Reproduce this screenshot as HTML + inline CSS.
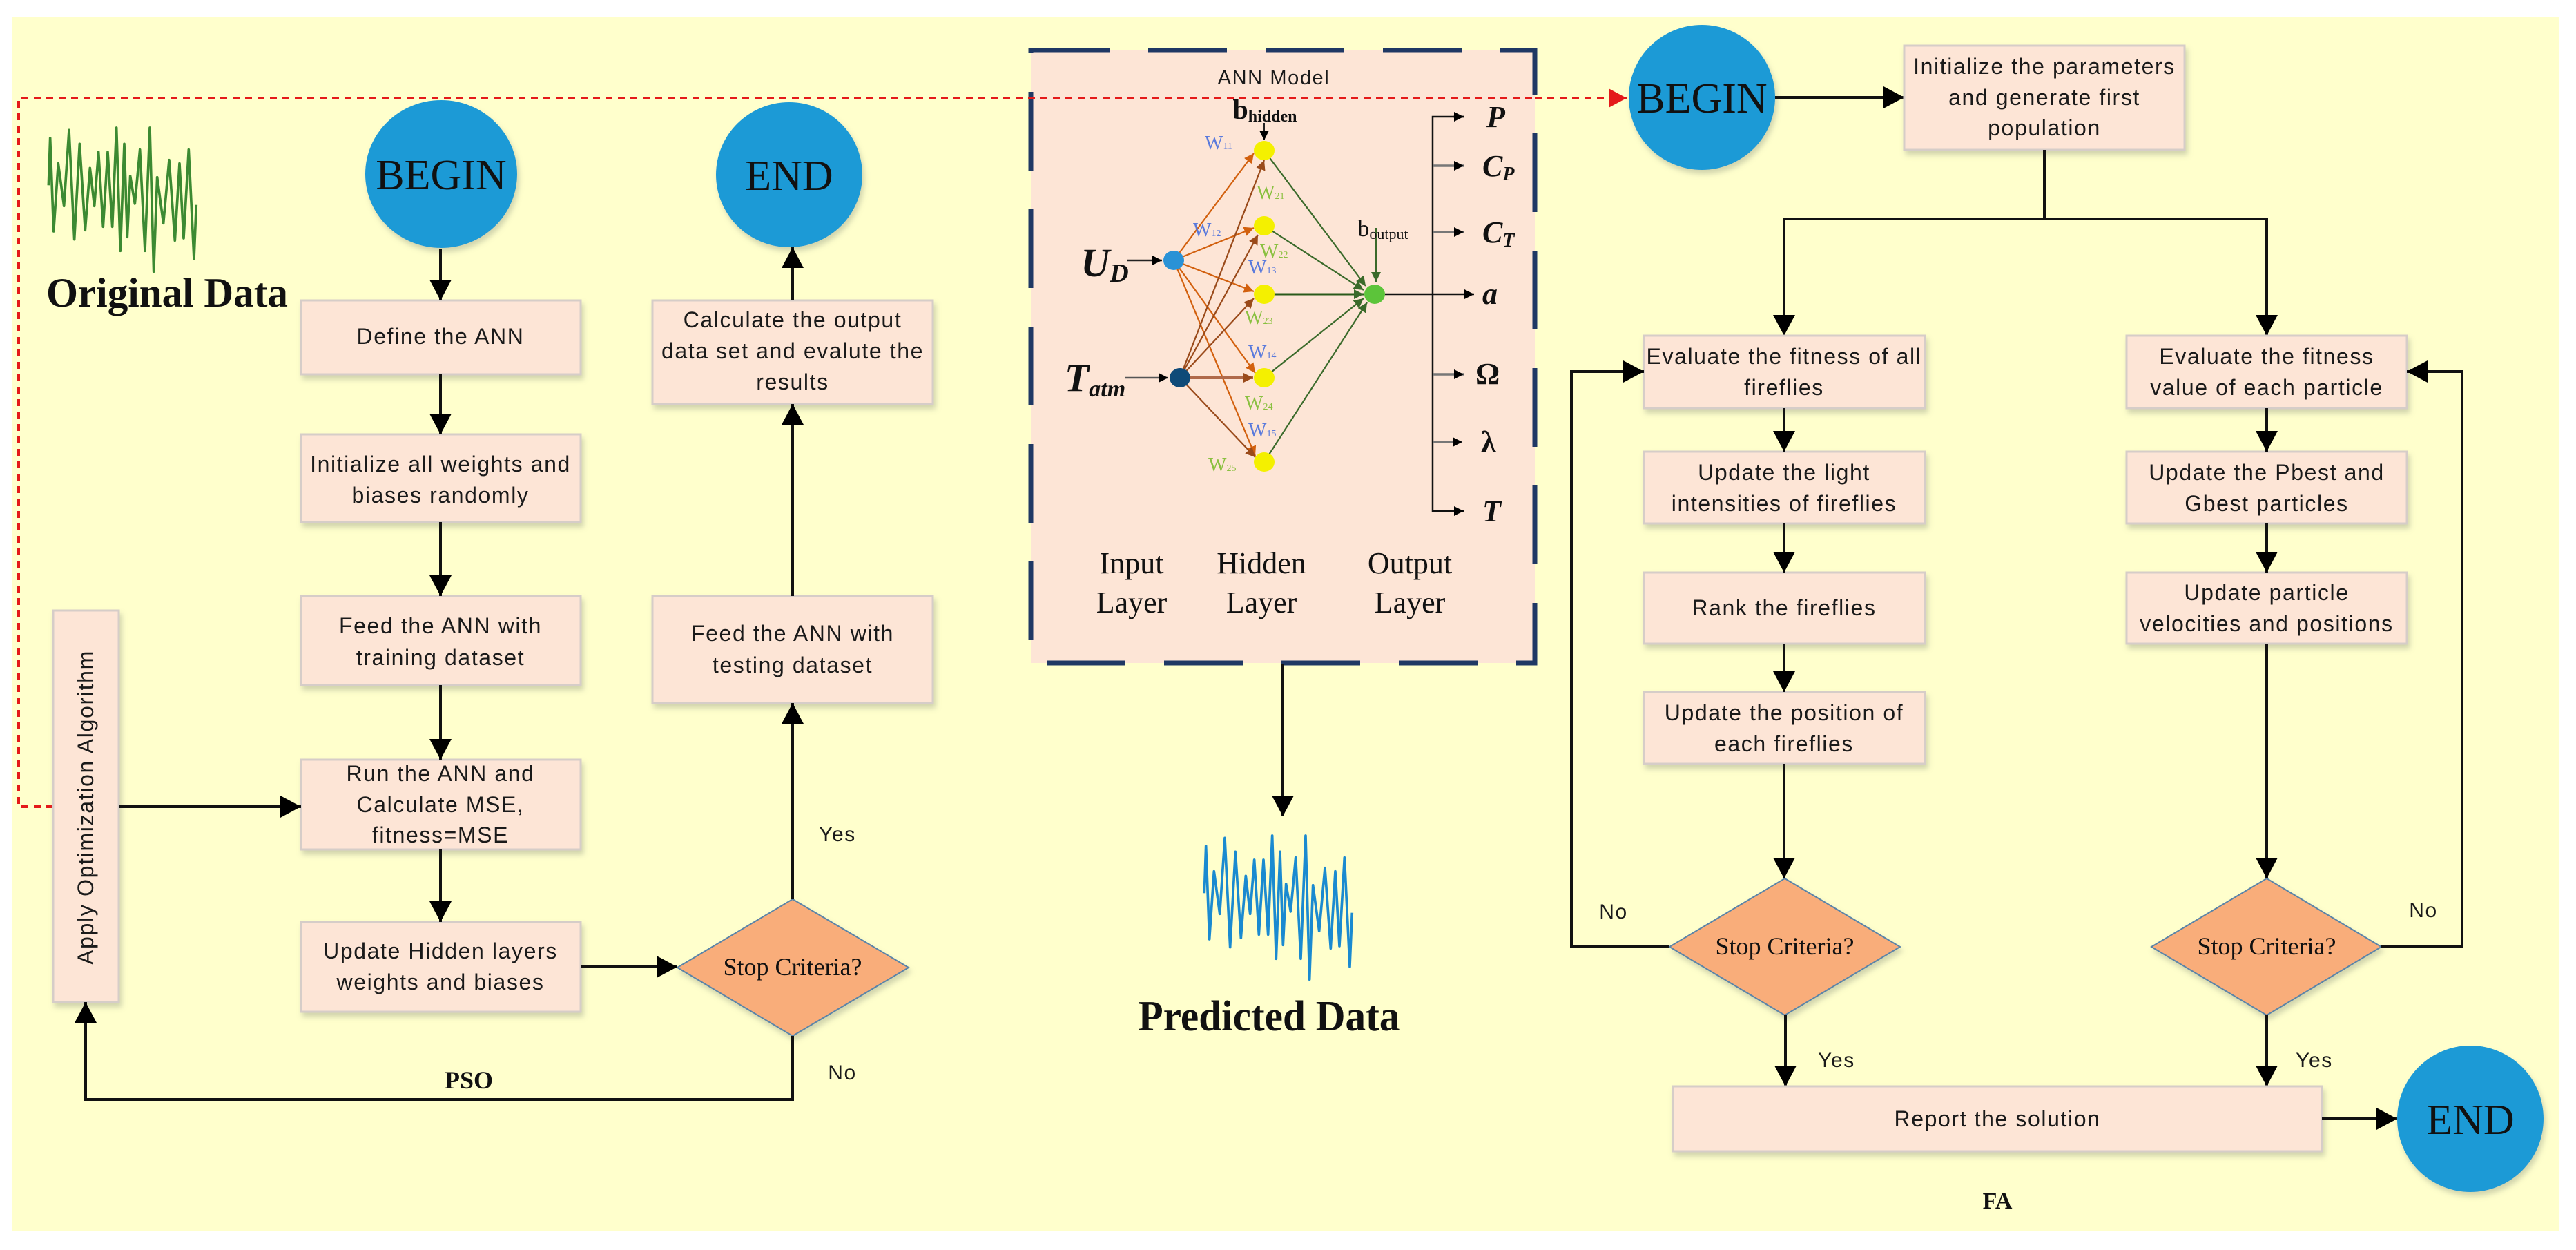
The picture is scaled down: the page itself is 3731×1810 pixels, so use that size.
<!DOCTYPE html>
<html><head><meta charset="utf-8"><style>
html,body{margin:0;padding:0;background:#fff;}
svg{display:block;}
.bx{fill:#fde5d6;stroke:#d6cdc8;stroke-width:3;filter:url(#sh);}
.t{font-family:"Liberation Sans",sans-serif;font-size:32px;letter-spacing:1.6px;fill:#1a1a1a;text-anchor:middle;}
.s{font-family:"Liberation Serif",serif;fill:#111;text-anchor:middle;}
.ln{stroke:#111;stroke-width:4;fill:none;}
</style></head><body>
<svg width="3731" height="1810" viewBox="0 0 3731 1810" xmlns="http://www.w3.org/2000/svg">
<defs>
<filter id="sh" x="-10%" y="-10%" width="130%" height="140%"><feDropShadow dx="3" dy="6" stdDeviation="4" flood-color="#99a088" flood-opacity="0.45"/></filter>
<marker id="ah" viewBox="0 0 30 32" refX="30" refY="16" markerWidth="30" markerHeight="32" markerUnits="userSpaceOnUse" orient="auto"><path d="M0,0 L30,16 L0,32 z" fill="#000"/></marker>
<marker id="ar" viewBox="0 0 30 32" refX="30" refY="16" markerWidth="26" markerHeight="28" markerUnits="userSpaceOnUse" orient="auto"><path d="M0,0 L30,16 L0,32 z" fill="#e41a1a"/></marker>
<marker id="as" viewBox="0 0 10 10" refX="10" refY="5" markerWidth="14" markerHeight="14" markerUnits="userSpaceOnUse" orient="auto"><path d="M0,0 L10,5 L0,10 z" fill="#000"/></marker>
<marker id="ao" viewBox="0 0 10 10" refX="10" refY="5" markerWidth="14" markerHeight="14" markerUnits="userSpaceOnUse" orient="auto"><path d="M0,0 L10,5 L0,10 z" fill="#d2600e"/></marker>
<marker id="ab" viewBox="0 0 10 10" refX="10" refY="5" markerWidth="14" markerHeight="14" markerUnits="userSpaceOnUse" orient="auto"><path d="M0,0 L10,5 L0,10 z" fill="#9a4a1a"/></marker>
<marker id="ag" viewBox="0 0 10 10" refX="10" refY="5" markerWidth="14" markerHeight="14" markerUnits="userSpaceOnUse" orient="auto"><path d="M0,0 L10,5 L0,10 z" fill="#3a6a2a"/></marker>
<polyline id="wave" points="133,430 140,225 155,630 175,335 200,520 222,190 245,665 268,250 292,625 313,355 332,520 350,285 370,610 390,285 410,610 428,180 445,715 462,250 475,655 488,390 508,510 530,275 552,715 573,180 590,805 605,395 632,595 657,320 682,670 702,335 720,660 742,275 765,750 775,515" fill="none" stroke-width="11" stroke-linejoin="round"/>
</defs>
<rect x="0" y="0" width="3731" height="1810" fill="#fff"/>
<rect x="18" y="25" width="3689" height="1757" fill="#ffffcc"/>

<rect x="1493" y="73" width="730" height="887" fill="#fde5d6"/>
<rect x="1493" y="73" width="730" height="887" fill="none" stroke="#1f3864" stroke-width="7" stroke-dasharray="114 56"/>

<polyline points="77,1168 27,1168 27,142 2223,142" fill="none" stroke="#e41a1a" stroke-width="4" stroke-dasharray="10 8"/>
<line x1="2223" y1="142" x2="2356" y2="142" stroke="#e41a1a" stroke-width="4" stroke-dasharray="10 8" marker-end="url(#ar)"/>

<use href="#wave" stroke="#3c8a32" transform="translate(26,125) scale(0.3333)"/>
<text x="67" y="444" class="s" style="text-anchor:start;font-weight:bold;font-size:60px" textLength="350" lengthAdjust="spacingAndGlyphs">Original Data</text>

<ellipse cx="639" cy="252" rx="110" ry="107" fill="#1c9ad6" filter="url(#sh)"/>
<text x="639" y="274" class="s" font-size="62">BEGIN</text>
<ellipse cx="1143" cy="253" rx="106" ry="105" fill="#1c9ad6" filter="url(#sh)"/>
<text x="1143" y="275" class="s" font-size="62">END</text>

<rect class="bx" x="436" y="435" width="405" height="107"/>
<text class="t" x="638" y="498">Define the ANN</text>
<rect class="bx" x="436" y="629" width="405" height="127"/>
<text class="t" x="638" y="683">Initialize all weights and</text>
<text class="t" x="638" y="728">biases randomly</text>
<rect class="bx" x="436" y="863" width="405" height="129"/>
<text class="t" x="638" y="917">Feed the ANN with</text>
<text class="t" x="638" y="963">training dataset</text>
<rect class="bx" x="436" y="1100" width="405" height="130"/>
<text class="t" x="638" y="1131">Run the ANN and</text>
<text class="t" x="638" y="1176">Calculate MSE,</text>
<text class="t" x="638" y="1220">fitness=MSE</text>
<rect class="bx" x="436" y="1335" width="405" height="130"/>
<text class="t" x="638" y="1388">Update Hidden layers</text>
<text class="t" x="638" y="1433">weights and biases</text>

<rect class="bx" x="77" y="884" width="95" height="567"/>
<text class="t" transform="translate(135,1169) rotate(-90)" textLength="456" lengthAdjust="spacingAndGlyphs">Apply Optimization Algorithm</text>

<rect class="bx" x="945" y="435" width="406" height="150"/>
<text class="t" x="1148" y="474">Calculate the output</text>
<text class="t" x="1148" y="519">data set and evalute the</text>
<text class="t" x="1148" y="564">results</text>
<rect class="bx" x="945" y="863" width="406" height="155"/>
<text class="t" x="1148" y="928">Feed the ANN with</text>
<text class="t" x="1148" y="974">testing dataset</text>

<polygon points="1148,1302 1316,1401 1148,1500 981,1401" fill="#f9ad7a" stroke="#5a84a8" stroke-width="2" filter="url(#sh)"/>
<text x="1148" y="1412" class="s" font-size="36">Stop Criteria?</text>

<line class="ln" x1="638" y1="360" x2="638" y2="435" marker-end="url(#ah)"/>
<line class="ln" x1="638" y1="542" x2="638" y2="629" marker-end="url(#ah)"/>
<line class="ln" x1="638" y1="756" x2="638" y2="863" marker-end="url(#ah)"/>
<line class="ln" x1="638" y1="992" x2="638" y2="1100" marker-end="url(#ah)"/>
<line class="ln" x1="638" y1="1230" x2="638" y2="1335" marker-end="url(#ah)"/>
<line class="ln" x1="172" y1="1168" x2="436" y2="1168" marker-end="url(#ah)"/>
<line class="ln" x1="841" y1="1400" x2="981" y2="1400" marker-end="url(#ah)"/>
<line class="ln" x1="1148" y1="1302" x2="1148" y2="1018" marker-end="url(#ah)"/>
<line class="ln" x1="1148" y1="863" x2="1148" y2="585" marker-end="url(#ah)"/>
<line class="ln" x1="1148" y1="435" x2="1148" y2="358" marker-end="url(#ah)"/>
<polyline class="ln" points="1148,1500 1148,1592 124,1592 124,1451" marker-end="url(#ah)"/>
<text x="679" y="1576" class="s" font-size="36" font-weight="bold">PSO</text>
<text x="1220" y="1563" class="t" style="font-size:30px">No</text>
<text x="1213" y="1218" class="t" style="font-size:30px">Yes</text>

<text x="1845" y="122" class="t" style="font-size:29px">ANN Model</text>
<text x="1832" y="172" class="s" font-size="40" font-weight="bold">b<tspan font-size="24" dy="4">hidden</tspan></text>
<line x1="1831" y1="178" x2="1831" y2="203" stroke="#222" stroke-width="2" marker-end="url(#as)"/>
<g stroke-width="2.2">
<line x1="1700" y1="377" x2="1816" y2="222" stroke="#d2600e" marker-end="url(#ao)"/>
<line x1="1700" y1="377" x2="1816" y2="330" stroke="#d2600e" marker-end="url(#ao)"/>
<line x1="1700" y1="377" x2="1816" y2="422" stroke="#d2600e" marker-end="url(#ao)"/>
<line x1="1700" y1="377" x2="1818" y2="540" stroke="#d2600e" marker-end="url(#ao)"/>
<line x1="1700" y1="377" x2="1818" y2="660" stroke="#d2600e" marker-end="url(#ao)"/>
<line x1="1709" y1="547" x2="1831" y2="232" stroke="#9a4a1a" marker-end="url(#ab)"/>
<line x1="1709" y1="547" x2="1822" y2="340" stroke="#9a4a1a" marker-end="url(#ab)"/>
<line x1="1709" y1="547" x2="1816" y2="432" stroke="#9a4a1a" marker-end="url(#ab)"/>
<line x1="1709" y1="547" x2="1815" y2="547" stroke="#b06a4a" stroke-width="4" marker-end="url(#ab)"/>
<line x1="1709" y1="547" x2="1818" y2="662" stroke="#9a4a1a" marker-end="url(#ab)"/>
<line x1="1831" y1="218" x2="1978" y2="414" stroke="#3a6a2a" marker-end="url(#ag)"/>
<line x1="1831" y1="327" x2="1975" y2="420" stroke="#3a6a2a" marker-end="url(#ag)"/>
<line x1="1831" y1="426" x2="1975" y2="426" stroke="#2a5a1a" stroke-width="3" marker-end="url(#ag)"/>
<line x1="1831" y1="547" x2="1975" y2="432" stroke="#3a6a2a" marker-end="url(#ag)"/>
<line x1="1831" y1="669" x2="1980" y2="438" stroke="#3a6a2a" marker-end="url(#ag)"/>
<line x1="1993" y1="330" x2="1993" y2="408" stroke="#3a6a2a" marker-end="url(#ag)"/>
</g>
<g font-family="Liberation Serif,serif" font-size="28">
<text x="1745" y="216" fill="#5a7adc">W<tspan font-size="14">11</tspan></text>
<text x="1820" y="288" fill="#8ac040">W<tspan font-size="14">21</tspan></text>
<text x="1728" y="342" fill="#5a7adc">W<tspan font-size="14">12</tspan></text>
<text x="1825" y="373" fill="#8ac040">W<tspan font-size="14">22</tspan></text>
<text x="1808" y="396" fill="#5a7adc">W<tspan font-size="14">13</tspan></text>
<text x="1803" y="469" fill="#8ac040">W<tspan font-size="14">23</tspan></text>
<text x="1808" y="519" fill="#5a7adc">W<tspan font-size="14">14</tspan></text>
<text x="1803" y="593" fill="#8ac040">W<tspan font-size="14">24</tspan></text>
<text x="1808" y="632" fill="#5a7adc">W<tspan font-size="14">15</tspan></text>
<text x="1750" y="682" fill="#8ac040">W<tspan font-size="14">25</tspan></text>
</g>
<g>
<ellipse cx="1831" cy="218" rx="15" ry="14" fill="#f4f000"/>
<ellipse cx="1831" cy="327" rx="15" ry="14" fill="#f4f000"/>
<ellipse cx="1831" cy="426" rx="15" ry="14" fill="#f4f000"/>
<ellipse cx="1831" cy="547" rx="15" ry="14" fill="#f4f000"/>
<ellipse cx="1831" cy="669" rx="15" ry="14" fill="#f4f000"/>
<ellipse cx="1700" cy="377" rx="15" ry="14" fill="#2a92d6"/>
<ellipse cx="1709" cy="547" rx="15" ry="14" fill="#0f4a78"/>
<ellipse cx="1991" cy="426" rx="15" ry="14" fill="#5cc43a"/>
<text x="1600" y="400" class="s" font-size="58" font-weight="bold" font-style="italic">U<tspan font-size="38" dy="8">D</tspan></text>
<text x="1586" y="566" class="s" font-size="58" font-weight="bold" font-style="italic">T<tspan font-size="34" dy="8">atm</tspan></text>
<line x1="1633" y1="377" x2="1683" y2="377" stroke="#222" stroke-width="2.5" marker-end="url(#as)"/>
<line x1="1630" y1="547" x2="1692" y2="547" stroke="#555" stroke-width="2.5" marker-end="url(#as)"/>
<text x="2003" y="342" class="s" font-size="34">b<tspan font-size="22" dy="4">output</tspan></text>
</g>
<line x1="2006" y1="426" x2="2135" y2="426" stroke="#111" stroke-width="2.5" marker-end="url(#as)"/>
<polyline points="2120,169 2075,169 2075,740 2120,740" fill="none" stroke="#111" stroke-width="2.5"/>
<line x1="2105" y1="169" x2="2120" y2="169" stroke="#111" stroke-width="2.5" marker-end="url(#as)"/>
<line x1="2105" y1="740" x2="2120" y2="740" stroke="#111" stroke-width="2.5" marker-end="url(#as)"/>
<g stroke="#777" stroke-width="3.5">
<line x1="2076" y1="240" x2="2120" y2="240" marker-end="url(#as)"/>
<line x1="2076" y1="336" x2="2120" y2="336" marker-end="url(#as)"/>
<line x1="2076" y1="542" x2="2120" y2="542" marker-end="url(#as)"/>
<line x1="2076" y1="640" x2="2118" y2="640" marker-end="url(#as)"/>
</g>
<g font-family="Liberation Serif,serif" font-weight="bold" font-style="italic" font-size="44" fill="#111">
<text x="2153" y="184">P</text>
<text x="2147" y="255">C<tspan font-size="28" dy="6">P</tspan></text>
<text x="2147" y="351">C<tspan font-size="28" dy="6">T</tspan></text>
<text x="2147" y="440">a</text>
<text x="2137" y="556" font-style="normal">Ω</text>
<text x="2145" y="655" font-style="normal">λ</text>
<text x="2147" y="755">T</text>
</g>
<g class="s" font-size="44">
<text x="1639" y="830" class="s">Input</text><text x="1639" y="887" class="s">Layer</text>
<text x="1827" y="830" class="s">Hidden</text><text x="1827" y="887" class="s">Layer</text>
<text x="2042" y="830" class="s">Output</text><text x="2042" y="887" class="s">Layer</text>
</g>
<line class="ln" x1="1858" y1="962" x2="1858" y2="1182" stroke-width="3" marker-end="url(#ah)"/>
<use href="#wave" stroke="#1a8ad0" transform="translate(1700,1150) scale(0.3333)"/>
<text x="1838" y="1492" class="s" font-size="62" font-weight="bold" textLength="379" lengthAdjust="spacingAndGlyphs">Predicted Data</text>

<ellipse cx="2465" cy="141" rx="106" ry="105" fill="#1c9ad6" filter="url(#sh)"/>
<text x="2465" y="163" class="s" font-size="62">BEGIN</text>
<line class="ln" x1="2571" y1="141" x2="2758" y2="141" marker-end="url(#ah)"/>
<rect class="bx" x="2758" y="66" width="406" height="151"/>
<text class="t" x="2961" y="107">Initialize the parameters</text>
<text class="t" x="2961" y="152">and generate first</text>
<text class="t" x="2961" y="196">population</text>
<polyline class="ln" points="2961,217 2961,317"/>
<polyline class="ln" points="2584,485 2584,317 3283,317 3283,485"/>
<line class="ln" x1="2584" y1="440" x2="2584" y2="486" marker-end="url(#ah)"/>
<line class="ln" x1="3283" y1="440" x2="3283" y2="486" marker-end="url(#ah)"/>

<rect class="bx" x="2381" y="486" width="407" height="105"/>
<text class="t" x="2584" y="527">Evaluate the fitness of all</text>
<text class="t" x="2584" y="572">fireflies</text>
<rect class="bx" x="2381" y="654" width="407" height="104"/>
<text class="t" x="2584" y="695">Update the light</text>
<text class="t" x="2584" y="740">intensities of fireflies</text>
<rect class="bx" x="2381" y="829" width="407" height="103"/>
<text class="t" x="2584" y="891">Rank the fireflies</text>
<rect class="bx" x="2381" y="1002" width="407" height="104"/>
<text class="t" x="2584" y="1043">Update the position of</text>
<text class="t" x="2584" y="1088">each fireflies</text>

<rect class="bx" x="3080" y="486" width="406" height="105"/>
<text class="t" x="3283" y="527">Evaluate the fitness</text>
<text class="t" x="3283" y="572">value of each particle</text>
<rect class="bx" x="3080" y="654" width="406" height="104"/>
<text class="t" x="3283" y="695">Update the Pbest and</text>
<text class="t" x="3283" y="740">Gbest particles</text>
<rect class="bx" x="3080" y="829" width="406" height="103"/>
<text class="t" x="3283" y="869">Update particle</text>
<text class="t" x="3283" y="914">velocities and positions</text>

<line class="ln" x1="2584" y1="591" x2="2584" y2="654" marker-end="url(#ah)"/>
<line class="ln" x1="2584" y1="758" x2="2584" y2="829" marker-end="url(#ah)"/>
<line class="ln" x1="2584" y1="932" x2="2584" y2="1002" marker-end="url(#ah)"/>
<line class="ln" x1="2584" y1="1106" x2="2584" y2="1272" marker-end="url(#ah)"/>
<line class="ln" x1="3283" y1="591" x2="3283" y2="654" marker-end="url(#ah)"/>
<line class="ln" x1="3283" y1="758" x2="3283" y2="829" marker-end="url(#ah)"/>
<line class="ln" x1="3283" y1="932" x2="3283" y2="1272" marker-end="url(#ah)"/>

<polygon points="2585,1272 2752,1371 2585,1470 2418,1371" fill="#f9ad7a" stroke="#5a84a8" stroke-width="2" filter="url(#sh)"/>
<text x="2585" y="1382" class="s" font-size="36">Stop Criteria?</text>
<polygon points="3283,1272 3449,1371 3283,1470 3116,1371" fill="#f9ad7a" stroke="#5a84a8" stroke-width="2" filter="url(#sh)"/>
<text x="3283" y="1382" class="s" font-size="36">Stop Criteria?</text>

<polyline class="ln" points="2418,1371 2276,1371 2276,538 2381,538" marker-end="url(#ah)"/>
<polyline class="ln" points="3449,1371 3566,1371 3566,538 3486,538" marker-end="url(#ah)"/>
<text x="2337" y="1330" class="t" style="font-size:30px">No</text>
<text x="3510" y="1328" class="t" style="font-size:30px">No</text>
<line class="ln" x1="2586" y1="1470" x2="2586" y2="1573" marker-end="url(#ah)"/>
<line class="ln" x1="3283" y1="1470" x2="3283" y2="1573" marker-end="url(#ah)"/>
<text x="2660" y="1545" class="t" style="font-size:30px">Yes</text>
<text x="3352" y="1545" class="t" style="font-size:30px">Yes</text>

<rect class="bx" x="2423" y="1573" width="940" height="94"/>
<text class="t" x="2893" y="1631">Report the solution</text>
<line class="ln" x1="3363" y1="1620" x2="3472" y2="1620" marker-end="url(#ah)"/>
<ellipse cx="3578" cy="1620" rx="106" ry="106" fill="#1c9ad6" filter="url(#sh)"/>
<text x="3578" y="1642" class="s" font-size="62">END</text>
<text x="2893" y="1750" class="s" font-size="34" font-weight="bold">FA</text>
</svg>
</body></html>
